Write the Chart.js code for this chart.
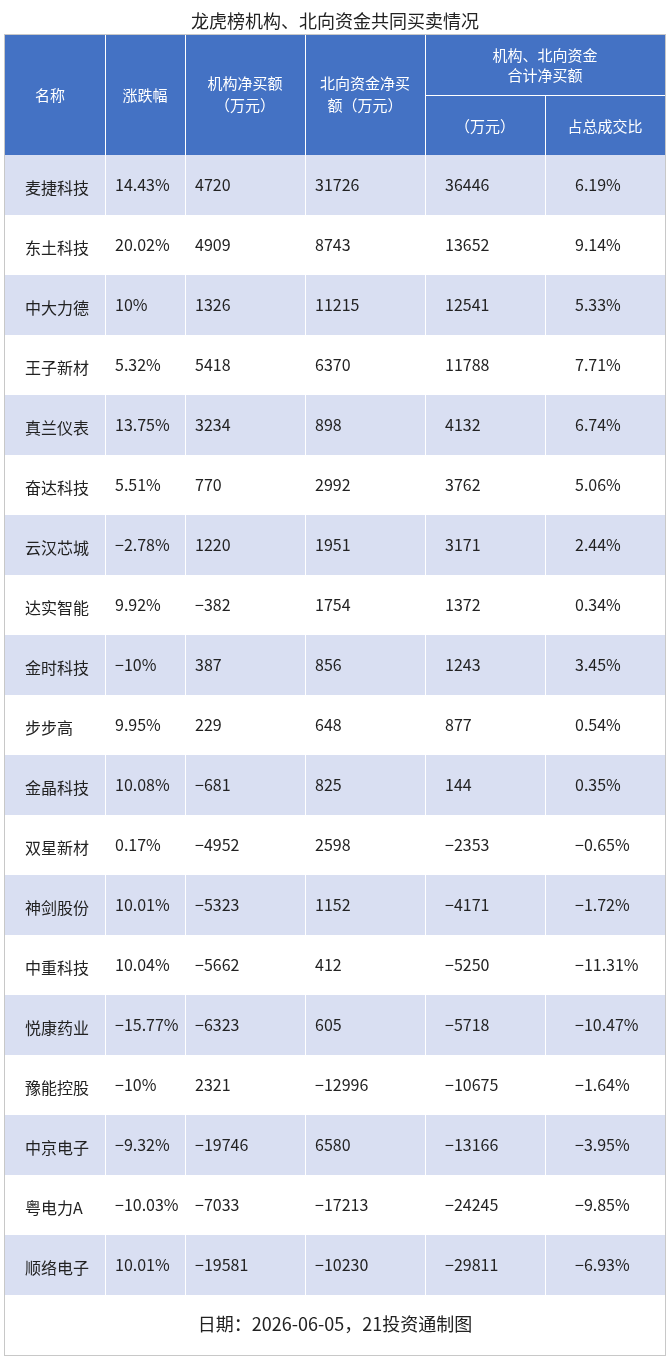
<!DOCTYPE html>
<html>
<head>
<meta charset="utf-8">
<script src="https://cdn.jsdelivr.net/npm/chart.js@4"></script>
<style>
  body { margin: 0; background: #fff; }
  #wrap { width: 670px; height: 1360px; position: relative; }
</style>
</head>
<body>
<div id="wrap"><canvas id="tableChart"></canvas></div>
<script>
// table data
const names = ["麦捷科技", "东土科技", "中大力德", "王子新材", "真兰仪表", "奋达科技", "云汉芯城", "达实智能", "金时科技", "步步高", "金晶科技", "双星新材", "神剑股份", "中重科技", "悦康药业", "豫能控股", "中京电子", "粤电力A", "顺络电子"];
const changePct = ["14.43%", "20.02%", "10%", "5.32%", "13.75%", "5.51%", "−2.78%", "9.92%", "−10%", "9.95%", "10.08%", "0.17%", "10.01%", "10.04%", "−15.77%", "−10%", "−9.32%", "−10.03%", "10.01%"];
const instNet = [4720, 4909, 1326, 5418, 3234, 770, 1220, -382, 387, 229, -681, -4952, -5323, -5662, -6323, 2321, -19746, -7033, -19581];
const northNet = [31726, 8743, 11215, 6370, 898, 2992, 1951, 1754, 856, 648, 825, 2598, 1152, 412, 605, -12996, 6580, -17213, -10230];
const totalNet = [36446, 13652, 12541, 11788, 4132, 3762, 3171, 1372, 1243, 877, 144, -2353, -4171, -5250, -5718, -10675, -13166, -24245, -29811];
const sharePct = ["6.19%", "9.14%", "5.33%", "7.71%", "6.74%", "5.06%", "2.44%", "0.34%", "3.45%", "0.54%", "0.35%", "−0.65%", "−1.72%", "−11.31%", "−10.47%", "−1.64%", "−3.95%", "−9.85%", "−6.93%"];
const colEdges = [0, 100, 180, 300, 420, 540, 660];

const fmt = v => String(v).replace("-", "−");
const FONT = '"Noto Sans CJK SC", "Noto Sans", sans-serif';

const tablePlugin = {
    id: 'tablePlugin',
    afterDraw(chart) {
        const ctx = chart.ctx;
        const x = chart.scales.x, y = chart.scales.y;
        const xs = colEdges.map(e => x.getPixelForValue(e));
        const rowH = y.getPixelForValue(1) - y.getPixelForValue(0);
        const top = y.getPixelForValue(0) - rowH / 2;
        const left = xs[0], right = xs[xs.length - 1];
        const headTop = 35;

        ctx.save();
        // title
        ctx.fillStyle = "#222";
        ctx.font = "18px " + FONT;
        ctx.textAlign = "center";
        ctx.textBaseline = "middle";
        ctx.fillText("龙虎榜机构、北向资金共同买卖情况", 335, 21);

        // header
        ctx.fillStyle = "#4472c4";
        ctx.fillRect(left, headTop, right - left, top - headTop);
        ctx.strokeStyle = "#ffffff";
        ctx.lineWidth = 1;
        ctx.beginPath();
        for (let i = 1; i < xs.length - 1; i++) {
            const yStart = i === 5 ? headTop + 60 : headTop;
            ctx.moveTo(xs[i] + 0.5, yStart);
            ctx.lineTo(xs[i] + 0.5, top);
        }
        ctx.moveTo(xs[4], headTop + 60.5);
        ctx.lineTo(right, headTop + 60.5);
        ctx.stroke();

        ctx.fillStyle = "#fff";
        ctx.font = "15px " + FONT;
        const mid = (a, b) => (xs[a] + xs[b]) / 2;
        const hc = (headTop + top) / 2;
        ctx.fillText("名称", mid(0, 1) - 5, hc);
        ctx.fillText("涨跌幅", mid(1, 2), hc);
        ctx.fillText("机构净买额", mid(2, 3), hc - 12);
        ctx.fillText("（万元）", mid(2, 3), hc + 10);
        ctx.fillText("北向资金净买", mid(3, 4), hc - 12);
        ctx.fillText("额（万元）", mid(3, 4), hc + 10);
        ctx.fillText("机构、北向资金", mid(4, 6), headTop + 20);
        ctx.fillText("合计净买额", mid(4, 6), headTop + 40);
        ctx.fillText("（万元）", mid(4, 5), headTop + 91);
        ctx.fillText("占总成交比", mid(5, 6), headTop + 91);

        // body rows
        ctx.font = "16px " + FONT;
        ctx.textAlign = "left";
        names.forEach((n, i) => {
            const cy = y.getPixelForValue(i);
            const ry = cy - rowH / 2;
            if (i % 2 === 0) {
                ctx.fillStyle = "#d9dff2";
                ctx.fillRect(left, ry, right - left, rowH);
                ctx.strokeStyle = "#ffffff";
                ctx.beginPath();
                for (let k = 1; k < xs.length - 1; k++) {
                    ctx.moveTo(xs[k] + 0.5, ry);
                    ctx.lineTo(xs[k] + 0.5, ry + rowH);
                }
                ctx.stroke();
            }
            ctx.fillStyle = "#222";
            const ty = cy;
            const cells = [n, changePct[i], fmt(instNet[i]), fmt(northNet[i]), fmt(totalNet[i]), sharePct[i]];
            const offs = [20, 10, 10, 10, 20, 30];
            cells.forEach((c, k) => ctx.fillText(c, xs[k] + offs[k], k === 0 ? cy + 3 : ty));
        });

        // footer
        const bottom = top + rowH * names.length;
        ctx.fillStyle = "#222";
        ctx.textAlign = "center";
        ctx.font = "18px " + FONT;
        ctx.fillText("日期：2026-06-05，21投资通制图", 335, bottom + 29);

        // outer border
        ctx.strokeStyle = "#c8c8c8";
        ctx.strokeRect(left - 0.5, headTop - 0.5, right - left + 1, bottom + 60 - headTop + 1);
        ctx.restore();
    }
};

new Chart(document.getElementById('tableChart'), {
    type: 'bar',
    data: {
        labels: names,
        datasets: [{ data: names.map(() => null) }]
    },
    options: {
        indexAxis: 'y',
        responsive: true,
        maintainAspectRatio: false,
        animation: false,
        layout: { padding: { top: 155, bottom: 65, left: 5, right: 5 } },
        plugins: { legend: { display: false }, tooltip: { enabled: false } },
        scales: {
            x: { type: 'linear', min: 0, max: 660, display: false },
            y: { type: 'category', display: false }
        }
    },
    plugins: [tablePlugin]
});
</script>
</body>
</html>
